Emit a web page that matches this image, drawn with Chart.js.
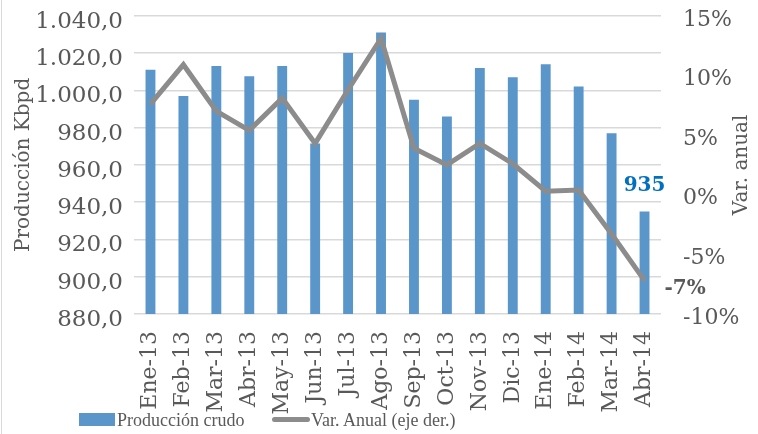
<!DOCTYPE html>
<html lang="es">
<head>
  <meta charset="UTF-8">
  <title>Producción de crudo</title>
  <script src="https://cdn.jsdelivr.net/npm/chart.js"></script>
  <style>
    body { margin: 0; background: #fff; }
    #caja { position: relative; width: 758px; height: 434px; }
    #borde { position: absolute; left: 1px; top: 0; width: 1px; height: 434px; background: #d9d9d9; }
    #leyenda { position: absolute; left: 0; top: 408px; width: 758px; height: 24px;
               font-family: "Liberation Serif", serif; font-size: 18px; color: #595959; }
    #leyenda span { position: absolute; top: 0; line-height: 24px; white-space: nowrap; }
    #leyenda i { position: absolute; display: block; }
  </style>
</head>
<body>
  <div id="caja">
    <canvas id="grafico" width="758" height="434"></canvas>
    <div id="borde"></div>
    <div id="leyenda"></div>
  </div>

  <script>
    const meses = ['Ene-13', 'Feb-13', 'Mar-13', 'Abr-13', 'May-13', 'Jun-13', 'Jul-13', 'Ago-13',
                   'Sep-13', 'Oct-13', 'Nov-13', 'Dic-13', 'Ene-14', 'Feb-14', 'Mar-14', 'Abr-14'];
    // Kbpd
    const produccion = [1011, 997, 1013, 1007.5, 1013, 971.5, 1020, 1031,
                        995, 986, 1012, 1007, 1014, 1002, 977, 935];
    // % variación anual
    const variacion = [7.6, 10.9, 7.0, 5.4, 8.1, 4.3, 8.8, 13.1,
                       3.9, 2.5, 4.3, 2.6, 0.3, 0.4, -3.3, -7.2];

    const gris = '#595959';
    const azul = '#5B96CB';
    const grisLinea = '#8C8C8C';
    const serif = '"DejaVu Serif", serif';

    function formatoMiles(v) {
      const partes = v.toFixed(1).split('.');
      const entero = partes[0].replace(/\B(?=(\d{3})+(?!\d))/g, '.');
      return entero + ',' + partes[1];
    }

    // etiquetas del último mes y títulos de ejes
    const etiquetas = {
      id: 'etiquetas',
      afterDraw(chart) {
        const ctx = chart.ctx;
        const n = meses.length - 1;
        const barra = chart.getDatasetMeta(0).data[n];
        const punto = chart.getDatasetMeta(1).data[n];
        const area = chart.chartArea;
        ctx.save();
        ctx.textBaseline = 'middle';
        ctx.font = 'bold 20px ' + serif;
        ctx.fillStyle = '#0070C0';
        ctx.textAlign = 'center';
        ctx.fillText(String(produccion[n]), barra.x, barra.y - 26);
        ctx.fillStyle = gris;
        ctx.textAlign = 'left';
        ctx.fillText(Math.round(variacion[n]) + '%', punto.x + 20, punto.y + 8);

        ctx.font = '20px ' + serif;
        ctx.textAlign = 'center';
        const yc = (area.top + area.bottom) / 2;
        ctx.translate(24, yc);
        ctx.rotate(-Math.PI / 2);
        ctx.fillText('Producción Kbpd', 0, 0);
        ctx.rotate(Math.PI / 2);
        ctx.translate(742 - 24, 0);
        ctx.rotate(-Math.PI / 2);
        ctx.fillText('Var. anual', 0, 0);
        ctx.restore();
      }
    };

    const grafico = new Chart(document.getElementById('grafico'), {
      data: {
        labels: meses,
        datasets: [
          {
            type: 'bar',
            label: 'Producción crudo',
            data: produccion,
            backgroundColor: azul,
            borderWidth: 0,
            barPercentage: 0.3,
            categoryPercentage: 1,
            yAxisID: 'y',
            order: 2
          },
          {
            type: 'line',
            label: 'Var. Anual (eje der.)',
            data: variacion,
            borderColor: grisLinea,
            backgroundColor: grisLinea,
            borderWidth: 5,
            pointRadius: 0,
            tension: 0,
            yAxisID: 'y1',
            order: 1
          }
        ]
      },
      options: {
        responsive: false,
        animation: false,
        layout: { padding: { top: 15, left: 0, right: 0, bottom: 0 } },
        plugins: {
          tooltip: { enabled: false },
          legend: { display: false }
        },
        scales: {
          x: {
            grid: { display: false, drawTicks: false },
            border: { display: false },
            ticks: {
              color: gris,
              font: { family: serif, size: 22 },
              minRotation: 90,
              maxRotation: 90,
              padding: 17,
              autoSkip: false
            },
            afterFit(scale) { scale.height = 120; }
          },
          y: {
            position: 'left',
            min: 880,
            max: 1040,
            border: { display: false },
            grid: { color: '#D9D9D9', lineWidth: 1.5, drawTicks: true, tickLength: 9, tickColor: 'rgba(0,0,0,0)' },
            ticks: {
              stepSize: 20,
              color: gris,
              padding: 2,
              labelOffset: 6,
              font: { family: serif, size: 23 },
              callback: v => formatoMiles(v)
            },
            afterFit(scale) { scale.width = 134; }
          },
          y1: {
            position: 'right',
            min: -10,
            max: 15,
            border: { display: false },
            grid: { drawOnChartArea: false, drawTicks: true, tickLength: 20, tickColor: 'rgba(0,0,0,0)' },
            ticks: {
              stepSize: 5,
              color: gris,
              padding: 2,
              labelOffset: 4,
              font: { family: serif, size: 22 },
              callback: v => v + '%'
            },
            afterFit(scale) { scale.width = 97; }
          }
        }
      },
      plugins: [etiquetas]
    });

    // leyenda en HTML, debajo del gráfico
    const leyenda = document.getElementById('leyenda');
    const ds = grafico.data.datasets;
    leyenda.innerHTML =
      '<i style="left:79px;top:5px;width:36px;height:13px;background:' + azul + '"></i>' +
      '<span style="left:117px">' + ds[0].label + '</span>' +
      '<i style="left:272px;top:9px;width:38px;height:5px;border-radius:2.5px;background:' + grisLinea + '"></i>' +
      '<span style="left:311px">' + ds[1].label + '</span>';
  </script>
</body>
</html>
